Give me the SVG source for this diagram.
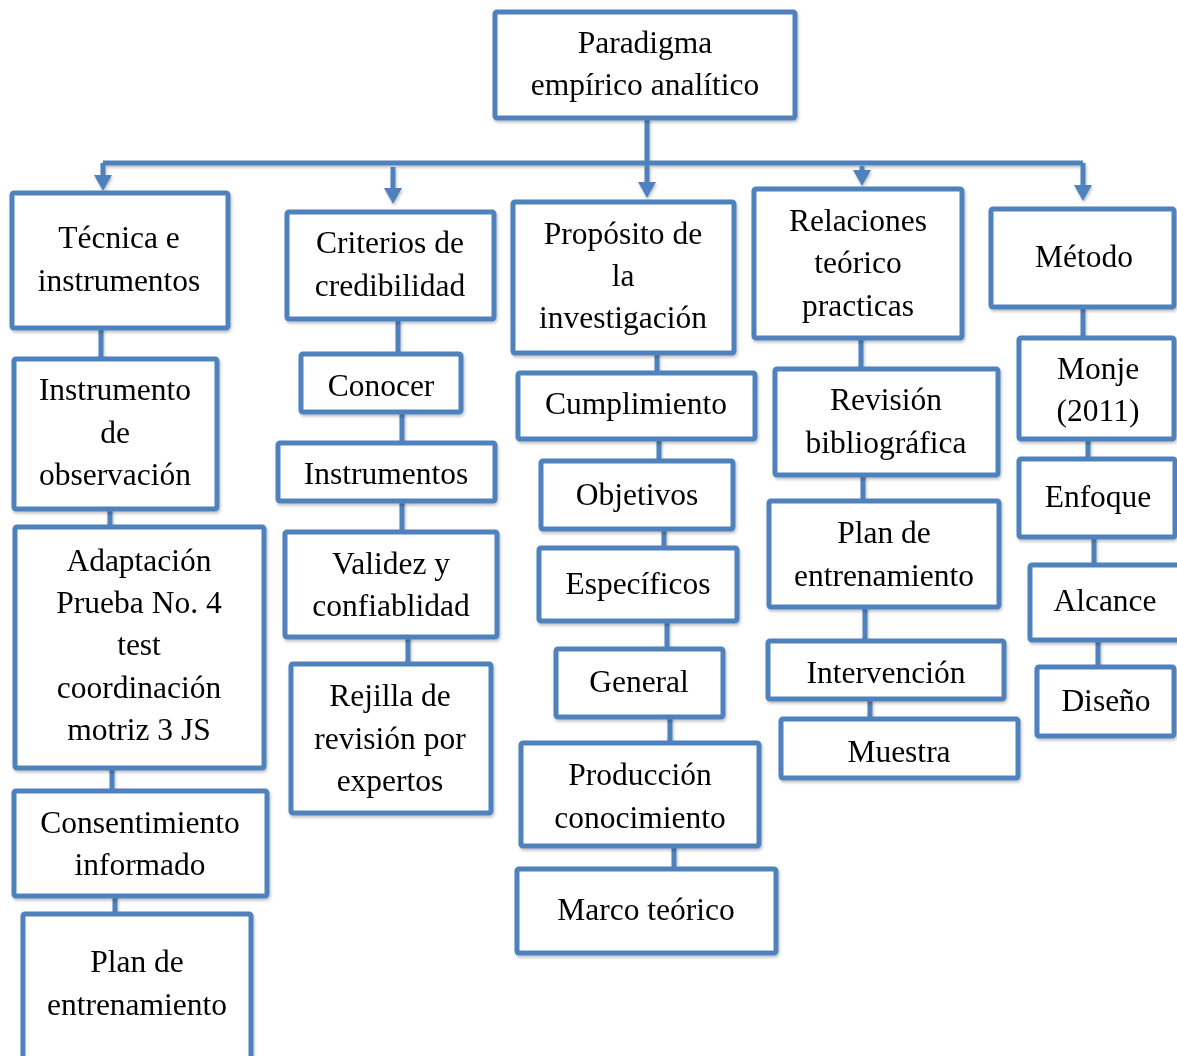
<svg xmlns="http://www.w3.org/2000/svg" width="1177" height="1056" viewBox="0 0 1177 1056">
<style>
.b{fill:#fff;stroke:#4f81bd;stroke-width:5}
.c{fill:none;stroke:#4f81bd;stroke-width:5}
text{font-family:"Liberation Serif","Times New Roman",serif;font-size:31.5px;fill:#000;text-anchor:middle}
</style>
<defs>
<filter id="sh" x="-10%" y="-10%" width="130%" height="130%">
<feDropShadow dx="1" dy="2" stdDeviation="1.5" flood-color="#000" flood-opacity="0.25"/>
</filter>
<marker id="ah" viewBox="0 0 16 18" refX="3" refY="9" markerWidth="16" markerHeight="18" markerUnits="userSpaceOnUse" orient="auto">
<path d="M0,0 L16,9 L0,18 z" fill="#4f81bd"/>
</marker>
</defs>
<rect width="1177" height="1056" fill="#fff"/>
<g id="connectors" filter="url(#sh)">
<path class="c" d="M647,118 V163"/>
<path class="c" d="M103,163 H1083"/>
<path class="c" d="M103,163 V178" marker-end="url(#ah)"/>
<path class="c" d="M393,167 V191" marker-end="url(#ah)"/>
<path class="c" d="M647,163 V185" marker-end="url(#ah)"/>
<path class="c" d="M862,166 V173" marker-end="url(#ah)"/>
<path class="c" d="M1083,163 V188" marker-end="url(#ah)"/>
<path class="c" d="M101,328 V359 M110,509 V527 M112,768 V791 M115,896 V914"/>
<path class="c" d="M398,319 V354 M402,412 V443 M402,501 V532 M408,637 V664"/>
<path class="c" d="M657,353 V373 M659,439 V461 M664,529 V548 M667,621 V649 M670,717 V743 M674,846 V869"/>
<path class="c" d="M861,338 V369 M863,475 V501 M865,607 V641 M870,699 V719"/>
<path class="c" d="M1083,307 V338 M1088,439 V459 M1094,537 V565 M1098,640 V667"/>
</g>
<g id="n0" filter="url(#sh)"><rect class="b" x="495" y="12" width="300" height="106" rx="2"/><text x="645" y="53">Paradigma</text><text x="645" y="95">empírico analítico</text></g>
<g id="n1" filter="url(#sh)"><rect class="b" x="12" y="193" width="216" height="135" rx="2"/><text x="119" y="248">Técnica e</text><text x="119" y="291">instrumentos</text></g>
<g id="n2" filter="url(#sh)"><rect class="b" x="287" y="212" width="207" height="107" rx="2"/><text x="390" y="253">Criterios de</text><text x="390" y="296">credibilidad</text></g>
<g id="n3" filter="url(#sh)"><rect class="b" x="513" y="202" width="221" height="151" rx="2"/><text x="623" y="244">Propósito de</text><text x="623" y="286">la</text><text x="623" y="328">investigación</text></g>
<g id="n4" filter="url(#sh)"><rect class="b" x="754" y="189" width="208" height="149" rx="2"/><text x="858" y="231">Relaciones</text><text x="858" y="273">teórico</text><text x="858" y="316">practicas</text></g>
<g id="n5" filter="url(#sh)"><rect class="b" x="991" y="209" width="183" height="98" rx="2"/><text x="1084" y="267">Método</text></g>
<g id="n11" filter="url(#sh)"><rect class="b" x="14" y="359" width="203" height="150" rx="2"/><text x="115" y="400">Instrumento</text><text x="115" y="443">de</text><text x="115" y="485">observación</text></g>
<g id="n12" filter="url(#sh)"><rect class="b" x="15" y="527" width="249" height="241" rx="2"/><text x="139" y="571">Adaptación</text><text x="139" y="613">Prueba No. 4</text><text x="139" y="655">test</text><text x="139" y="698">coordinación</text><text x="139" y="740">motriz 3 JS</text></g>
<g id="n13" filter="url(#sh)"><rect class="b" x="14" y="791" width="253" height="105" rx="2"/><text x="140" y="833">Consentimiento</text><text x="140" y="875">informado</text></g>
<g id="n14" filter="url(#sh)"><rect class="b" x="23" y="914" width="228" height="145" rx="2"/><text x="137" y="972">Plan de</text><text x="137" y="1015">entrenamiento</text></g>
<g id="n21" filter="url(#sh)"><rect class="b" x="301" y="354" width="160" height="58" rx="2"/><text x="381" y="396">Conocer</text></g>
<g id="n22" filter="url(#sh)"><rect class="b" x="278" y="443" width="217" height="58" rx="2"/><text x="386" y="484">Instrumentos</text></g>
<g id="n23" filter="url(#sh)"><rect class="b" x="285" y="532" width="212" height="105" rx="2"/><text x="391" y="574">Validez y</text><text x="391" y="616">confiablidad</text></g>
<g id="n24" filter="url(#sh)"><rect class="b" x="291" y="664" width="200" height="149" rx="2"/><text x="390" y="706">Rejilla de</text><text x="390" y="749">revisión por</text><text x="390" y="791">expertos</text></g>
<g id="n31" filter="url(#sh)"><rect class="b" x="518" y="373" width="237" height="66" rx="2"/><text x="636" y="414">Cumplimiento</text></g>
<g id="n32" filter="url(#sh)"><rect class="b" x="541" y="461" width="192" height="68" rx="2"/><text x="637" y="505">Objetivos</text></g>
<g id="n33" filter="url(#sh)"><rect class="b" x="539" y="548" width="198" height="73" rx="2"/><text x="638" y="594">Específicos</text></g>
<g id="n34" filter="url(#sh)"><rect class="b" x="556" y="649" width="167" height="68" rx="2"/><text x="639" y="692">General</text></g>
<g id="n35" filter="url(#sh)"><rect class="b" x="521" y="743" width="238" height="103" rx="2"/><text x="640" y="785">Producción</text><text x="640" y="828">conocimiento</text></g>
<g id="n36" filter="url(#sh)"><rect class="b" x="517" y="869" width="259" height="84" rx="2"/><text x="646" y="920">Marco teórico</text></g>
<g id="n41" filter="url(#sh)"><rect class="b" x="775" y="369" width="223" height="106" rx="2"/><text x="886" y="410">Revisión</text><text x="886" y="453">bibliográfica</text></g>
<g id="n42" filter="url(#sh)"><rect class="b" x="769" y="501" width="230" height="106" rx="2"/><text x="884" y="543">Plan de</text><text x="884" y="586">entrenamiento</text></g>
<g id="n43" filter="url(#sh)"><rect class="b" x="768" y="641" width="236" height="58" rx="2"/><text x="886" y="683">Intervención</text></g>
<g id="n44" filter="url(#sh)"><rect class="b" x="781" y="719" width="237" height="59" rx="2"/><text x="899" y="762">Muestra</text></g>
<g id="n51" filter="url(#sh)"><rect class="b" x="1019" y="338" width="155" height="101" rx="2"/><text x="1098" y="379">Monje</text><text x="1098" y="421">(2011)</text></g>
<g id="n52" filter="url(#sh)"><rect class="b" x="1019" y="459" width="156" height="78" rx="2"/><text x="1098" y="507">Enfoque</text></g>
<g id="n53" filter="url(#sh)"><rect class="b" x="1030" y="565" width="160" height="75" rx="2"/><text x="1105" y="611">Alcance</text></g>
<g id="n54" filter="url(#sh)"><rect class="b" x="1037" y="667" width="137" height="69" rx="2"/><text x="1106" y="711">Diseño</text></g>
</svg>
